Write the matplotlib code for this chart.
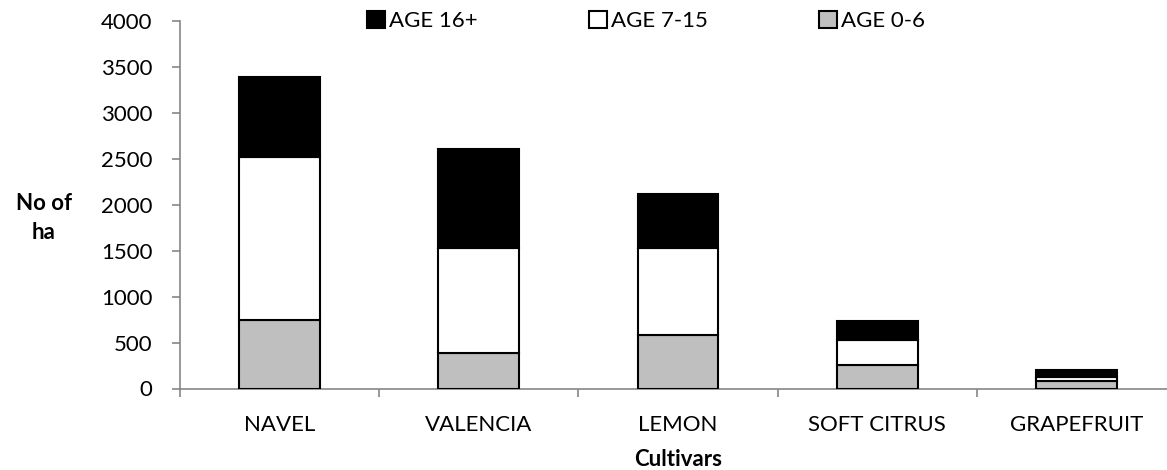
import matplotlib.pyplot as plt
import numpy as np

# --- Data (hectares per cultivar and tree age) ---
cultivars = ["NAVEL", "VALENCIA", "LEMON", "SOFT CITRUS", "GRAPEFRUIT"]
age_0_6 = [744, 385, 584, 258, 85]
age_7_15 = [1773, 1144, 945, 269, 37]
age_16_plus = [868, 1071, 586, 203, 82]

plt.rcParams['font.family'] = ['Lato', 'DejaVu Sans']
plt.rcParams['font.size'] = 16

fig = plt.figure(figsize=(11.67, 4.70), dpi=100)
ax = fig.add_axes([180 / 1167, 1 - 388.5 / 470, 996 / 1167, (388.5 - 20.7) / 470])

x = np.arange(len(cultivars))
w = 0.405
b0 = np.array(age_0_6)
b1 = b0 + np.array(age_7_15)

ax.bar(x, age_0_6, w, color="#bfbfbf", edgecolor="black", linewidth=1.5, label="AGE 0-6", zorder=3)
ax.bar(x, age_7_15, w, bottom=b0, color="white", edgecolor="black", linewidth=1.5, label="AGE 7-15", zorder=3)
ax.bar(x, age_16_plus, w, bottom=b1, color="black", edgecolor="black", linewidth=1.5, label="AGE 16+", zorder=3)

ax.set_xlim(-0.5, len(cultivars) - 0.5)
ax.set_ylim(0, 4000)
ax.set_yticks(np.arange(0, 4001, 500))
ax.set_xticks(x)
ax.set_xticklabels(cultivars)
ax.set_xticks(np.arange(-0.5, len(cultivars), 1), minor=True)
ax.tick_params(axis='x', which='major', length=0, pad=19)
ax.tick_params(axis='x', which='minor', length=6, color="#868686", width=1.2)
ax.tick_params(axis='y', length=6, color="#868686", width=1.2, pad=14)

for side in ["top", "right"]:
    ax.spines[side].set_visible(False)
for side in ["left", "bottom"]:
    ax.spines[side].set_color("#868686")
    ax.spines[side].set_linewidth(1.2)

ax.set_xlabel("Cultivars", fontweight="bold", labelpad=10)
fig.text(44 / 1167, 1 - 218 / 470, "No of\nha", fontweight="bold", ha="center", va="center",
         multialignment="center", linespacing=1.5)

handles, labels = ax.get_legend_handles_labels()
ax.legend(handles[::-1], labels[::-1], ncol=3, frameon=False,
          loc="center", bbox_to_anchor=(0.468, 1.0),
          handlelength=0.8, handleheight=0.8, handletextpad=0.2, columnspacing=5.0)

fig.savefig("out.png", dpi=100)
